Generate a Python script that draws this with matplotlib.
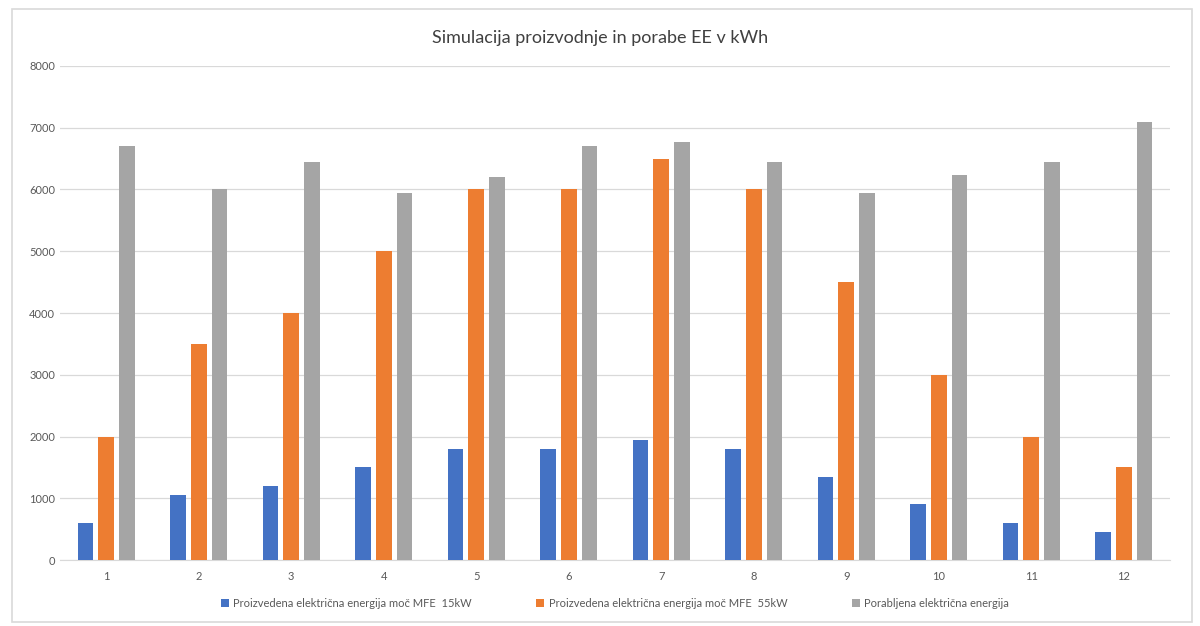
import matplotlib.pyplot as plt
import numpy as np
from matplotlib.patches import Rectangle

plt.rcParams["font.family"] = ["Lato", "DejaVu Sans"]

months = [str(i) for i in range(1, 13)]
mfe_15kw = [600, 1050, 1200, 1500, 1800, 1800, 1950, 1800, 1350, 900, 600, 450]
mfe_55kw = [2000, 3500, 4000, 5000, 6000, 6000, 6500, 6000, 4500, 3000, 2000, 1500]
porabljena = [6700, 6000, 6450, 5950, 6200, 6700, 6770, 6450, 5950, 6230, 6450, 7100]
labels = [
    "Proizvedena električna energija moč MFE  15kW",
    "Proizvedena električna energija moč MFE  55kW",
    "Porabljena električna energija",
]
colors = ["#4472C4", "#ED7D31", "#A5A5A5"]

fig = plt.figure(figsize=(12, 6.26), dpi=100)
fig.patches.append(Rectangle((0.01, 0.006), 0.983, 0.98, transform=fig.transFigure,
                             fill=False, edgecolor="#D9D9D9", linewidth=1.2))
ax = fig.add_axes([0.05, 0.1054, 0.925, 0.7892])

x = np.arange(len(months))
w = 0.17
off = 0.225
for i, (vals, lab, c) in enumerate(zip([mfe_15kw, mfe_55kw, porabljena], labels, colors)):
    ax.bar(x + (i - 1) * off, vals, w, color=c, label=lab, zorder=3)

ax.set_ylim(0, 8000)
ax.set_xlim(-0.5, 11.5)
ax.set_yticks(range(0, 8001, 1000))
ax.set_xticks(x)
ax.set_xticklabels(months)
ax.grid(axis="y", color="#D9D9D9", linewidth=0.9, zorder=0)
for s in ["top", "right", "left"]:
    ax.spines[s].set_visible(False)
ax.spines["bottom"].set_color("#D9D9D9")
ax.tick_params(axis="both", length=0, colors="#595959", labelsize=8)
ax.tick_params(axis="x", pad=8)

fig.text(0.5, 0.94, "Simulacija proizvodnje in porabe EE v kWh", ha="center",
         va="center", fontsize=13, color="#404040")

ax.legend(loc="center", bbox_to_anchor=(0.5, -0.087), ncol=3, frameon=False,
          fontsize=8, labelcolor="#595959", handlelength=0.7, handleheight=0.7,
          columnspacing=5.8, handletextpad=0.4)

fig.savefig("out.png", dpi=100, facecolor="white")
